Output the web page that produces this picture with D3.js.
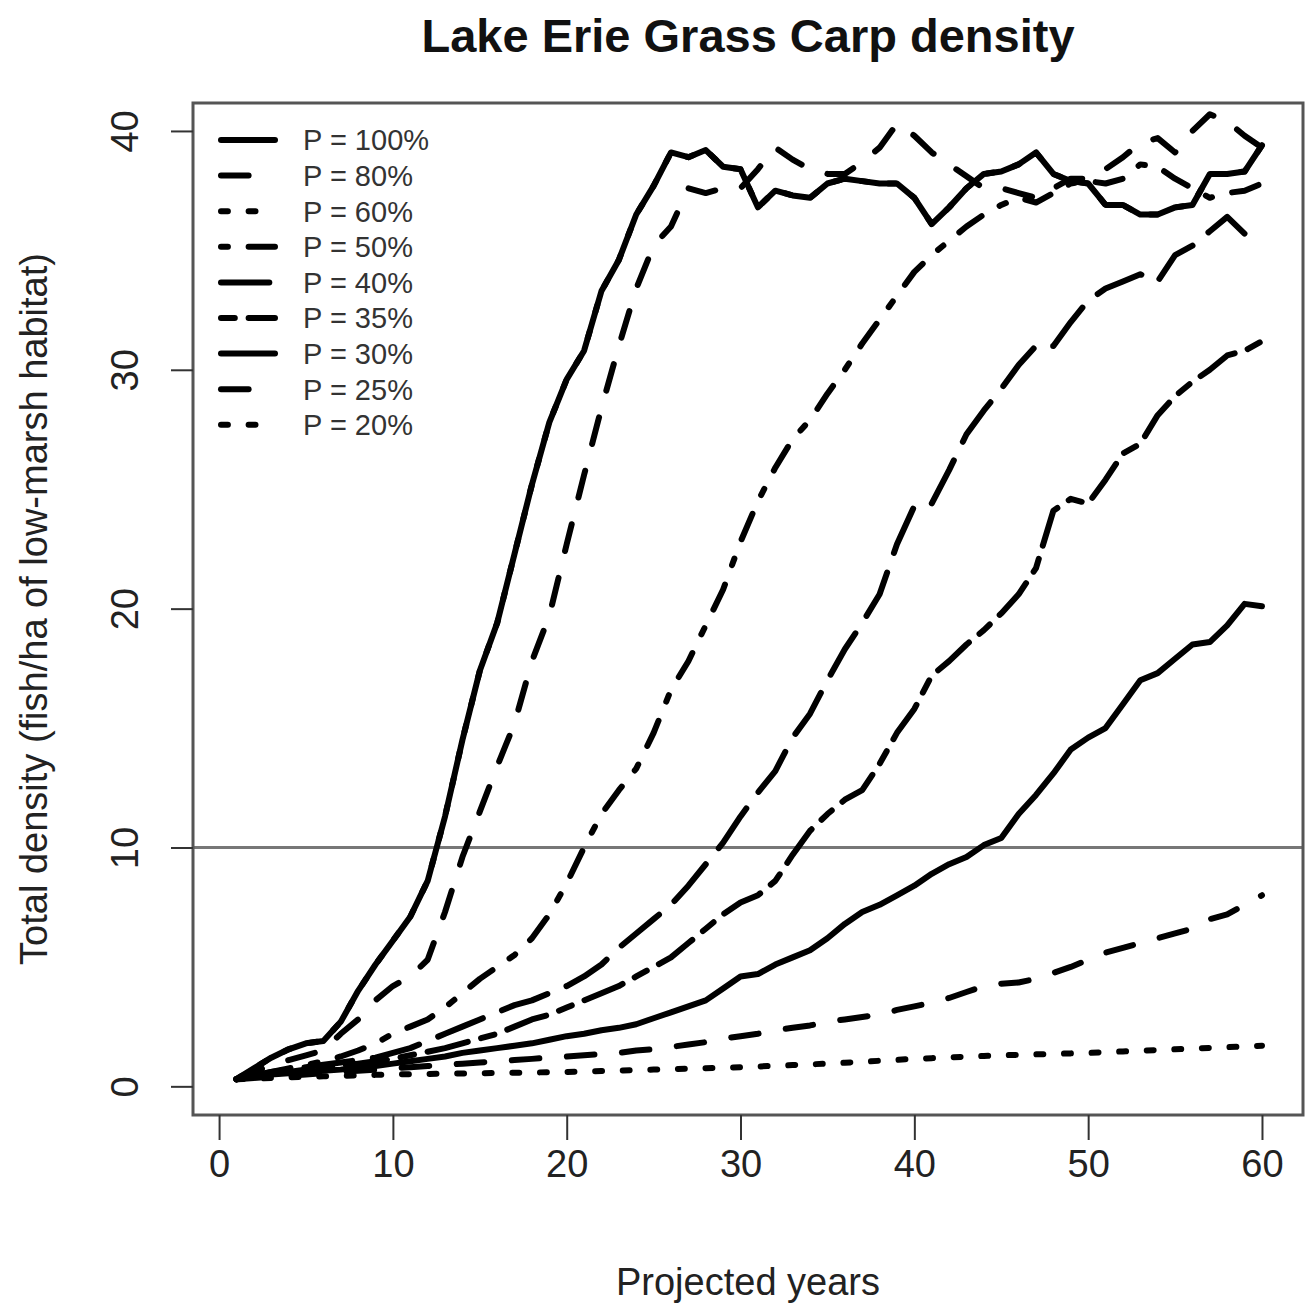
<!DOCTYPE html>
<html>
<head>
<meta charset="utf-8">
<script src="https://cdn.jsdelivr.net/npm/d3@7"></script>
<style>
  body { margin: 0; background: #fff; }
  text { font-family: "Liberation Sans", Arial, sans-serif; fill: #222; }
</style>
</head>
<body>
<div id="chart"></div>
<script>
const width = 1307;
const height = 1310;
const box = { left: 193, right: 1303, top: 103, bottom: 1115 };

// projected years 1..60
const years = d3.range(1, 61);

const p100 = [0.3, 0.75, 1.2, 1.55, 1.8, 1.9, 2.7, 4.0, 5.1, 6.1,
  7.1, 8.6, 11.3, 14.5, 17.4, 19.4, 22.3, 25.2, 27.8, 29.6,
  30.8, 33.3, 34.6, 36.5, 37.7, 39.1, 38.9, 39.2, 38.5, 38.4,
  36.8, 37.5, 37.3, 37.2, 37.8, 38.0, 37.9, 37.8, 37.8, 37.2,
  36.1, 36.8, 37.6, 38.2, 38.3, 38.6, 39.1, 38.2, 37.9, 37.8,
  36.9, 36.9, 36.5, 36.5, 36.8, 36.9, 38.2, 38.2, 38.3, 39.4];
const p80 = [0.3, 0.6, 0.9, 1.1, 1.3, 1.5, 2.2, 2.8, 3.6, 4.2,
  4.6, 5.3, 7.3, 9.6, 11.5, 13.4, 15.2, 17.8, 19.7, 22.7,
  25.6, 28.4, 31.0, 33.4, 35.2, 36.0, 37.6, 37.4, 37.6, 37.6,
  38.4, 39.3, 38.8, 38.4, 38.2, 38.2, 38.7, 39.3, 40.3, 39.8,
  39.1, 38.6, 38.1, 37.6, 37.6, 37.4, 37.2, 37.6, 38.0, 38.0,
  38.4, 38.9, 39.5, 39.7, 39.1, 40.0, 40.7, 40.4, 39.8, 39.3];
// not distinguishable in the picture: runs under the P = 100% curve
const p60 = [0.3, 0.75, 1.2, 1.55, 1.8, 1.9, 2.7, 4.0, 5.1, 6.1,
  7.1, 8.6, 11.3, 14.5, 17.4, 19.4, 22.3, 25.2, 27.8, 29.6,
  30.8, 33.3, 34.6, 36.5, 37.7, 39.1, 38.9, 39.2, 38.5, 38.4,
  36.8, 37.5, 37.3, 37.2, 37.8, 38.0, 37.9, 37.8, 37.8, 37.2,
  36.1, 36.8, 37.6, 38.2, 38.3, 38.6, 39.1, 38.2, 37.9, 37.8,
  36.9, 36.9, 36.5, 36.5, 36.8, 36.9, 38.2, 38.2, 38.3, 39.4];
const p50 = [0.3, 0.45, 0.6, 0.75, 0.9, 1.05, 1.25, 1.5, 1.8, 2.2,
  2.5, 2.8, 3.3, 3.9, 4.5, 5.0, 5.5, 6.2, 7.2, 8.5,
  10.0, 11.4, 12.4, 13.3, 14.8, 16.6, 17.8, 19.3, 20.8, 22.8,
  24.5, 25.9, 27.1, 27.9, 29.0, 30.0, 31.1, 32.1, 33.1, 34.1,
  34.8, 35.4, 36.0, 36.5, 36.9, 37.2, 37.0, 37.4, 37.8, 37.9,
  37.8, 38.0, 38.6, 38.5, 38.0, 37.6, 37.2, 37.4, 37.5, 37.8];
const p40 = [0.3, 0.45, 0.6, 0.7, 0.8, 0.9, 1.0, 1.1, 1.2, 1.4,
  1.6, 1.9, 2.2, 2.5, 2.8, 3.1, 3.4, 3.6, 3.9, 4.2,
  4.6, 5.1, 5.8, 6.4, 7.0, 7.6, 8.4, 9.3, 10.2, 11.3,
  12.3, 13.2, 14.6, 15.6, 17.0, 18.3, 19.4, 20.6, 22.7, 24.3,
  24.4, 25.8, 27.3, 28.3, 29.2, 30.2, 31.0, 31.0, 32.0, 32.9,
  33.4, 33.7, 34.0, 33.7, 34.8, 35.2, 35.8, 36.4, 35.7, 35.8];
const p35 = [0.3, 0.4, 0.5, 0.6, 0.7, 0.75, 0.85, 0.95, 1.05, 1.15,
  1.3, 1.45, 1.6, 1.8, 2.0, 2.2, 2.5, 2.8, 3.0, 3.3,
  3.6, 3.9, 4.2, 4.6, 5.0, 5.4, 6.0, 6.6, 7.2, 7.7,
  8.0, 8.6, 9.7, 10.7, 11.4, 12.0, 12.4, 13.5, 14.8, 15.8,
  17.2, 17.8, 18.5, 19.1, 19.8, 20.6, 21.7, 24.1, 24.6, 24.4,
  25.4, 26.5, 26.9, 28.1, 28.9, 29.5, 30.0, 30.6, 30.8, 31.2];
const p30 = [0.3, 0.4, 0.5, 0.55, 0.6, 0.65, 0.7, 0.8, 0.85, 0.95,
  1.05, 1.15, 1.25, 1.4, 1.5, 1.6, 1.7, 1.8, 1.95, 2.1,
  2.2, 2.35, 2.45, 2.6, 2.85, 3.1, 3.35, 3.6, 4.1, 4.6,
  4.7, 5.1, 5.4, 5.7, 6.2, 6.8, 7.3, 7.6, 8.0, 8.4,
  8.9, 9.3, 9.6, 10.1, 10.4, 11.4, 12.2, 13.1, 14.1, 14.6,
  15.0, 16.0, 17.0, 17.3, 17.9, 18.5, 18.6, 19.3, 20.2, 20.1];
const p25 = [0.3, 0.35, 0.4, 0.45, 0.5, 0.55, 0.6, 0.65, 0.7, 0.75,
  0.8, 0.85, 0.9, 0.95, 1.0, 1.05, 1.1, 1.15, 1.2, 1.25,
  1.3, 1.35, 1.4, 1.5, 1.55, 1.65, 1.75, 1.85, 2.0, 2.1,
  2.2, 2.35, 2.45, 2.55, 2.7, 2.8, 2.9, 3.0, 3.2, 3.35,
  3.5, 3.7, 3.95, 4.2, 4.3, 4.35, 4.5, 4.75, 5.0, 5.3,
  5.6, 5.8, 6.0, 6.2, 6.4, 6.6, 7.0, 7.2, 7.6, 8.0];
const p20 = [0.3, 0.32, 0.35, 0.38, 0.4, 0.42, 0.44, 0.46, 0.48, 0.5,
  0.51, 0.52, 0.53, 0.54, 0.55, 0.56, 0.57, 0.58, 0.59, 0.6,
  0.62, 0.64, 0.66, 0.68, 0.7, 0.72, 0.74, 0.76, 0.78, 0.8,
  0.83, 0.86, 0.89, 0.92, 0.95, 0.99, 1.03, 1.07, 1.11, 1.15,
  1.18, 1.21, 1.24, 1.27, 1.3, 1.32, 1.34, 1.36, 1.38, 1.4,
  1.43, 1.46, 1.49, 1.52, 1.55, 1.58, 1.61, 1.64, 1.67, 1.7];

const labels = ["P = 100%", "P = 80%", "P = 60%", "P = 50%", "P = 40%",
                "P = 35%", "P = 30%", "P = 25%", "P = 20%"];
const values = [p100, p80, p60, p50, p40, p35, p30, p25, p20];
const xTicks = [0, 10, 20, 30, 40, 50, 60];
const yTicks = [0, 10, 20, 30, 40];
const refLine = 10;

// R line types 1..6 then repeating
const unit = 6.9;
const ltyPatterns = [null, [4, 4], [1, 3], [1, 3, 4, 3], [7, 3], [2, 2, 6, 2]];
const dashFor = i => {
    const p = ltyPatterns[i % 6];
    return p ? p.map(v => v * unit).join(" ") : null;
};

const svg = d3.select("#chart").append("svg")
    .attr("width", width)
    .attr("height", height);
svg.append("rect").attr("width", width).attr("height", height).attr("fill", "#fff");

const x = d3.scaleLinear().domain([-1.5, 62.36]).range([box.left, box.right]);
const y = d3.scaleLinear().domain([-1.2, 41.17]).range([box.bottom, box.top]);

svg.append("clipPath").attr("id", "plotclip")
  .append("rect")
    .attr("x", box.left).attr("y", box.top)
    .attr("width", box.right - box.left).attr("height", box.bottom - box.top);

// reference line at 10
svg.append("line")
    .attr("x1", box.left).attr("x2", box.right)
    .attr("y1", y(refLine)).attr("y2", y(refLine))
    .attr("stroke", "#777")
    .attr("stroke-width", 3);

const line = d3.line()
    .x((d, i) => x(years[i]))
    .y(d => y(d));

const g = svg.append("g").attr("clip-path", "url(#plotclip)");
values.forEach((vals, i) => {
    g.append("path")
        .attr("d", line(vals))
        .attr("fill", "none")
        .attr("stroke", "#000")
        .attr("stroke-width", 6)
        .attr("stroke-linecap", "round")
        .attr("stroke-linejoin", "round")
        .attr("stroke-dasharray", dashFor(i));
});

// plot frame
svg.append("rect")
    .attr("x", box.left).attr("y", box.top)
    .attr("width", box.right - box.left).attr("height", box.bottom - box.top)
    .attr("fill", "none")
    .attr("stroke", "#555")
    .attr("stroke-width", 3);

// x axis
const xAxis = svg.append("g")
    .attr("transform", `translate(0,${box.bottom})`)
    .call(d3.axisBottom(x).tickValues(xTicks).tickSize(25).tickPadding(10).tickFormat(d3.format("d")));
xAxis.select(".domain").remove();
xAxis.selectAll(".tick line").attr("stroke", "#333").attr("stroke-width", 2);
xAxis.selectAll(".tick text").attr("font-size", 38).attr("fill", "#222");

// y axis, labels rotated like R's default
const yAxis = svg.append("g")
    .attr("transform", `translate(${box.left},0)`)
    .call(d3.axisLeft(y).tickValues(yTicks).tickSize(22).tickFormat(d3.format("d")));
yAxis.select(".domain").remove();
yAxis.selectAll(".tick line").attr("stroke", "#333").attr("stroke-width", 2);
yAxis.selectAll(".tick text")
    .attr("font-size", 38)
    .attr("fill", "#222")
    .attr("x", null).attr("dy", null)
    .attr("text-anchor", "middle")
    .attr("transform", "translate(-55,0) rotate(-90)");

// titles
svg.append("text")
    .attr("x", (box.left + box.right) / 2)
    .attr("y", 52)
    .attr("text-anchor", "middle")
    .attr("font-size", 47)
    .attr("font-weight", "bold")
    .style("fill", "#111")
    .text("Lake Erie Grass Carp density");

svg.append("text")
    .attr("x", (box.left + box.right) / 2)
    .attr("y", 1295)
    .attr("text-anchor", "middle")
    .attr("font-size", 38)
    .text("Projected years");

svg.append("text")
    .attr("transform", `translate(47,${(box.top + box.bottom) / 2}) rotate(-90)`)
    .attr("text-anchor", "middle")
    .attr("font-size", 38)
    .text("Total density (fish/ha of low-marsh habitat)");

// legend
const legend = svg.append("g");
labels.forEach((lab, i) => {
    const ly = 140 + i * 35.6;
    legend.append("line")
        .attr("x1", 221).attr("x2", 275)
        .attr("y1", ly).attr("y2", ly)
        .attr("stroke", "#000")
        .attr("stroke-width", 6)
        .attr("stroke-linecap", "round")
        .attr("stroke-dasharray", dashFor(i));
    legend.append("text")
        .attr("x", 303)
        .attr("y", ly)
        .attr("dy", "0.36em")
        .attr("font-size", 29)
        .style("fill", "#333")
        .text(lab);
});
</script>
</body>
</html>
